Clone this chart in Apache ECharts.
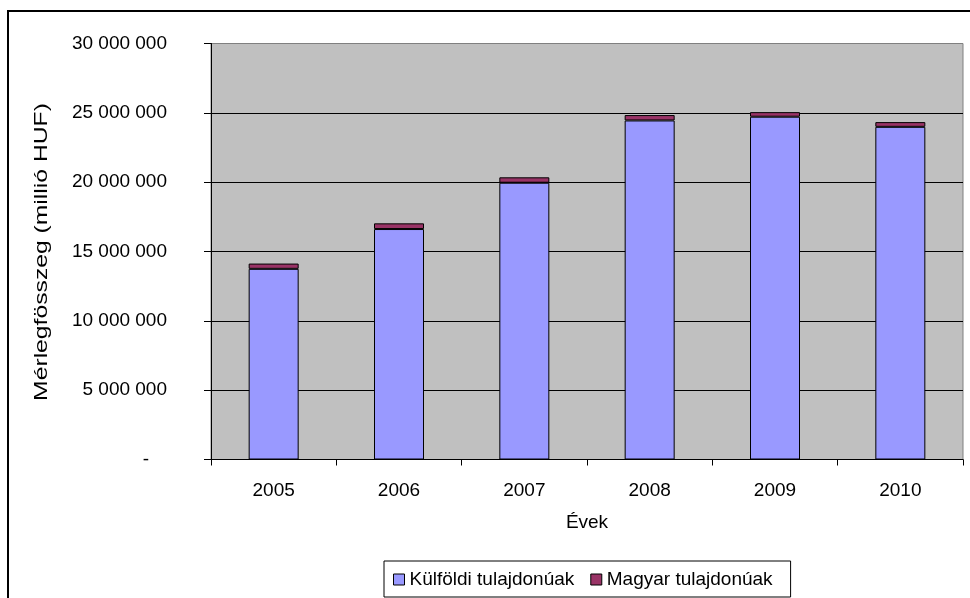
<!DOCTYPE html>
<html>
<head>
<meta charset="utf-8">
<script src="https://cdn.jsdelivr.net/npm/echarts@6/dist/echarts.min.js"></script>
<style>
  html, body { margin: 0; padding: 0; background: #fff; }
  #chart { width: 970px; height: 598px; }
</style>
</head>
<body>
<div id="chart"></div>
<script>
// Balance sheet totals of banks by ownership, million HUF
const years = ['2005', '2006', '2007', '2008', '2009', '2010'];
const foreignOwned = [13750000, 16620000, 19960000, 24450000, 24720000, 23990000];
const hungarianOwned = [380000, 410000, 390000, 390000, 330000, 340000];
const seriesNames = ['Külföldi tulajdonúak', 'Magyar tulajdonúak'];
const axisTitles = { x: 'Évek', y: 'Mérlegfösszeg (millió HUF)' };

const FONT = '"Liberation Sans", Arial, sans-serif';
const FS = 19;

function spaced(v) {
  return String(Math.round(v)).replace(/\B(?=(\d{3})+(?!\d))/g, ' ');
}

const chart = echarts.init(document.getElementById('chart'), null, { renderer: 'canvas' });

chart.setOption({
  animation: false,
  backgroundColor: '#ffffff',
  textStyle: { fontFamily: FONT, color: '#000' },
  grid: {
    left: 211, right: 7, top: 43.5, bottom: 138.5,
    show: true, backgroundColor: '#c0c0c0', borderColor: '#808080', borderWidth: 1
  },
  graphic: [
    {
      type: 'rect',
      shape: { x: 8, y: 11, width: 980, height: 600 },
      style: { fill: 'none', stroke: '#000', lineWidth: 2 },
      silent: true
    },
    {
      // vertical axis title, stretched along its length
      type: 'text',
      x: 42, y: 252,
      rotation: Math.PI / 2,
      scaleX: 1.3,
      style: {
        text: axisTitles.y,
        fontFamily: FONT, fontSize: FS, fill: '#000',
        align: 'center', verticalAlign: 'middle'
      },
      silent: true
    }
  ],
  legend: {
    data: seriesNames,
    left: 384, top: 561,
    orient: 'horizontal',
    padding: [9, 18, 8, 9],
    itemGap: 16,
    itemWidth: 11, itemHeight: 11,
    icon: 'rect',
    borderColor: '#000', borderWidth: 1,
    itemStyle: { borderColor: '#000', borderWidth: 1 },
    textStyle: { fontFamily: FONT, fontSize: FS, color: '#000' }
  },
  xAxis: {
    type: 'category',
    data: years,
    name: axisTitles.x,
    nameLocation: 'middle',
    nameGap: 54,
    nameTextStyle: { fontFamily: FONT, fontSize: FS, color: '#000' },
    axisLine: { lineStyle: { color: '#000', width: 1 } },
    axisTick: { show: true, length: 6, lineStyle: { color: '#000' } },
    axisLabel: { fontFamily: FONT, fontSize: FS, color: '#000', margin: 22 }
  },
  yAxis: {
    type: 'value',
    min: 0, max: 30000000, interval: 5000000,
    axisLine: { show: true, lineStyle: { color: '#000', width: 1 } },
    axisTick: { show: true, length: 7, lineStyle: { color: '#000' } },
    axisLabel: {
      fontFamily: FONT, fontSize: FS, color: '#000', margin: 44,
      formatter: v => v === 0 ? '{z|-}' : spaced(v),
      rich: { z: { fontFamily: FONT, fontSize: FS, color: '#000', padding: [0, 18, 0, 0] } }
    },
    splitLine: {
      show: true,
      lineStyle: { color: ['#000', '#000', '#000', '#000', '#000', '#000', '#808080'], width: 1 }
    }
  },
  series: [
    {
      name: seriesNames[0],
      type: 'bar',
      stack: 'total',
      barWidth: 50,
      data: foreignOwned,
      itemStyle: { color: '#9999ff', borderColor: '#000', borderWidth: 1 }
    },
    {
      name: seriesNames[1],
      type: 'bar',
      stack: 'total',
      barWidth: 50,
      data: hungarianOwned,
      itemStyle: { color: '#993366', borderColor: '#000', borderWidth: 1 }
    }
  ]
});
</script>
</body>
</html>
